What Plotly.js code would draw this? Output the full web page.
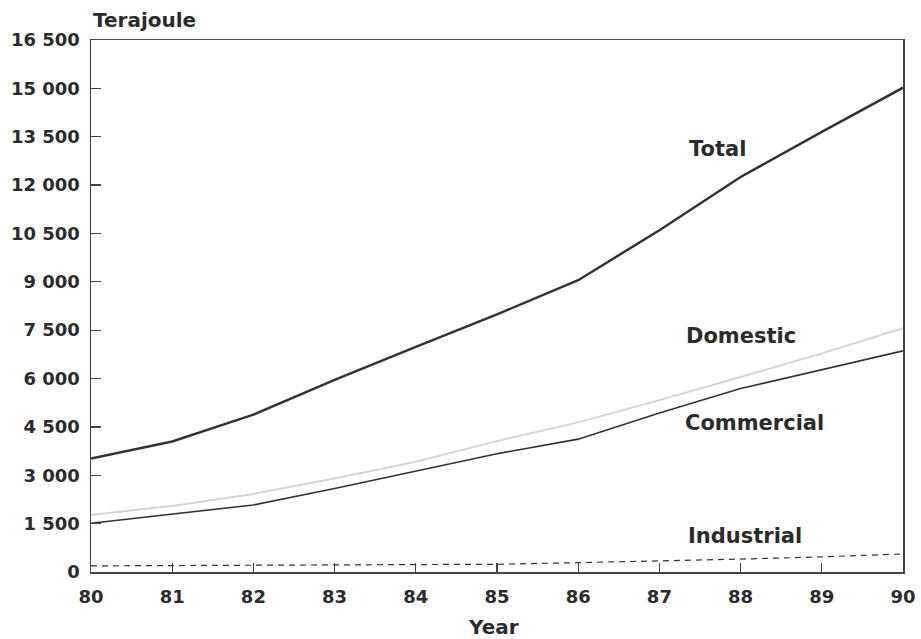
<!DOCTYPE html>
<html>
<head>
<meta charset="utf-8">
<script src="https://cdn.plot.ly/plotly-3.0.1.min.js"></script>
<style>html,body{margin:0;padding:0;background:#fff;}#chart{width:921px;height:639px;}</style>
</head>
<body>
<div id="chart"></div>
<script>
const years = [80, 81, 82, 83, 84, 85, 86, 87, 88, 89, 90];
const total = [3520, 4050, 4880, 5960, 6980, 7990, 9050, 10600, 12250, 13650, 15020];
const domestic = [1770, 2050, 2420, 2900, 3420, 4060, 4640, 5330, 6050, 6780, 7560];
const commercial = [1510, 1790, 2080, 2590, 3130, 3670, 4120, 4930, 5690, 6280, 6860];
const industrial = [190, 200, 200, 210, 220, 240, 290, 340, 400, 470, 560];
const yTickVals = [0, 1500, 3000, 4500, 6000, 7500, 9000, 10500, 12000, 13500, 15000, 16500];
const yTickText = ["0", "1 500", "3 000", "4 500", "6 000", "7 500", "9 000", "10 500", "12 000", "13 500", "15 000", "16 500"];
const seriesLabels = ["Total", "Domestic", "Commercial", "Industrial"];
const labelX = [87.72, 88.01, 88.17, 88.05];
const labelY = [13108, 7313, 4617, 1131];

const FONT = "DejaVu Sans, Arial, sans-serif";
const ink = "#2b2b2b";

const traces = [
  {x: years, y: total, mode: "lines", line: {color: "#333", width: 2.5}, name: "Total"},
  {x: years, y: domestic, mode: "lines", line: {color: "#d4d4d4", width: 2}, name: "Domestic"},
  {x: years, y: commercial, mode: "lines", line: {color: "#333", width: 1.6}, name: "Commercial"},
  {x: years, y: industrial, mode: "lines", line: {color: "#333", width: 1.2, dash: "6px,5px"}, name: "Industrial"}
];

const annotations = seriesLabels.map((t, i) => ({
  x: labelX[i], y: labelY[i], xref: "x", yref: "y", text: "<b>" + t + "</b>",
  showarrow: false, xanchor: "center", yanchor: "middle",
  font: {family: FONT, size: 21, color: ink}
}));
annotations.push({
  x: 0, y: 1, xref: "paper", yref: "paper", text: "<b>Terajoule</b>",
  showarrow: false, xanchor: "left", yanchor: "middle", yshift: 20,
  font: {family: FONT, size: 20, color: ink}
});
annotations.push({
  x: 0.5, y: 0, xref: "paper", yref: "paper", text: "<b>Year</b>",
  showarrow: false, xanchor: "center", yanchor: "middle", yshift: -55, xshift: -4,
  font: {family: FONT, size: 20, color: ink}
});

const layout = {
  width: 921, height: 639,
  margin: {l: 91, r: 18, t: 40, b: 67},
  paper_bgcolor: "#fff", plot_bgcolor: "#fff",
  showlegend: false,
  xaxis: {
    range: [80, 90], tickmode: "array", tickvals: years,
    ticks: "inside", ticklen: 9, tickcolor: "#444", tickwidth: 1.2,
    showline: true, linecolor: "#444", linewidth: 1.5, mirror: true,
    showgrid: false, zeroline: false,
    tickfont: {family: FONT, size: 18, color: ink, weight: "bold"},
    ticklabelstandoff: 8
  },
  yaxis: {
    range: [0, 16500], tickmode: "array", tickvals: yTickVals, ticktext: yTickText,
    ticks: "inside", ticklen: 10, tickcolor: "#444", tickwidth: 1.2,
    showline: true, linecolor: "#444", linewidth: 1.5, mirror: true,
    showgrid: false, zeroline: false,
    tickfont: {family: FONT, size: 18, color: ink, weight: "bold"},
    ticklabelstandoff: 6
  },
  annotations: annotations
};

Plotly.newPlot("chart", traces, layout, {displayModeBar: false, staticPlot: true});
</script>
</body>
</html>
